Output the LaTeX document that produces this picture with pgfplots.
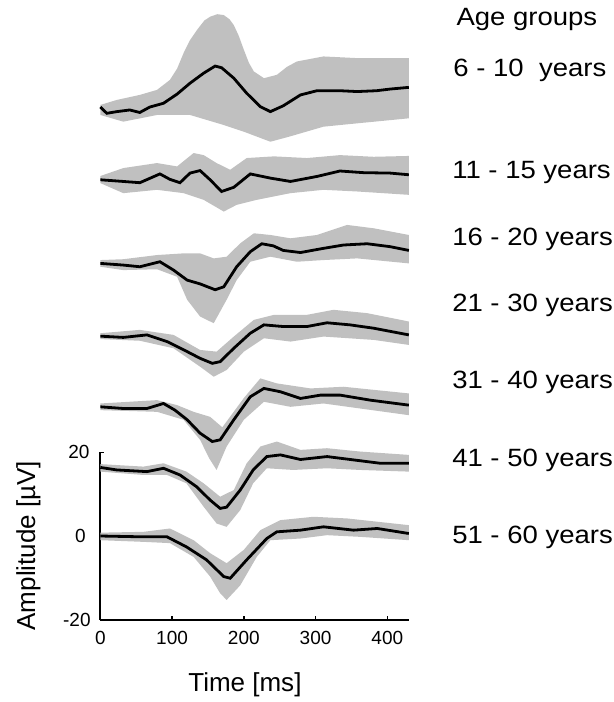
\documentclass[border=0pt]{standalone}
\usepackage{fontspec}
\setmainfont{Liberation Sans}
\usepackage{graphicx}
\usepackage{pgfplots}
\pgfplotsset{compat=1.18}
\usepgfplotslibrary{fillbetween}
\definecolor{band}{RGB}{192,192,192}
\newcommand{\lab}[1]{\scalebox{1.1}[1]{\fontsize{12.5}{15}\selectfont #1}}
\newcommand{\tl}[1]{\fontsize{9.5}{11}\selectfont #1}
\begin{document}
\begin{tikzpicture}
\begin{axis}[
  scale only axis, width=154.2pt, height=83.6pt,
  xmin=0, xmax=430, ymin=-20, ymax=20,
  clip=false,
  axis lines=left,
  axis line style={-, line width=1pt},
  every outer x axis line/.append style={-},
  every outer y axis line/.append style={-},
  xtick={0,100,200,300,400}, ytick={-20,0,20},
  xticklabels={0,100,200,300,400}, yticklabels={},
  tick align=inside, major tick length=2pt,
  tick style={line width=0.8pt, black},
  tick label style={font=\fontsize{9.5}{11}\selectfont},
  xticklabel style={yshift=-2.5pt},
]
\coordinate (bbl) at (axis cs:-139.9,-39.7);
\coordinate (btr) at (axis cs:715,128.2);

% ---- bands (upper / lower edges) ----
\addplot[draw=none, name path=u1] coordinates {(0,103.1)(23,104.3)(55,105.5)(79,106.7)(97,109.1)(107,111.8)(116,115.5)(125,118.6)(135,121.1)(145,123.3)(153,124.2)(163,124.8)(172,124.6)(180,123.6)(186,122.2)(193,119.6)(200,116.3)(207,113.2)(214,111.1)(228,109.5)(246,110.3)(260,112.2)(274,113.5)(311,114.7)(358,114.3)(404,114.3)(430,114.3)};
\addplot[draw=none, name path=l1] coordinates {(0,100.7)(32,99.1)(79,100.7)(125,100.7)(172,98.3)(200,96.7)(237,94.3)(265,95.6)(311,97.9)(358,98.7)(430,99.9)};
\addplot[band] fill between[of=u1 and l1];

\addplot[draw=none, name path=u2] coordinates {(0,86.1)(32,88.0)(79,89.2)(107,88.4)(130,91.6)(144,91.1)(162,89.2)(181,87.6)(204,90.4)(242,90.8)(288,90.4)(334,91.1)(381,90.7)(430,90.9)};
\addplot[draw=none, name path=l2] coordinates {(0,84.4)(32,82.0)(79,82.8)(116,82.0)(144,80.4)(172,77.6)(190,79.2)(218,80.4)(265,82.0)(311,82.8)(358,82.4)(430,81.6)};
\addplot[band] fill between[of=u2 and l2];

\addplot[draw=none, name path=u3] coordinates {(0,66.0)(32,66.2)(79,67.2)(116,67.6)(139,67.6)(158,66.4)(176,66.8)(195,70.0)(214,72.4)(237,72.0)(265,71.2)(302,72.0)(344,74.4)(381,73.6)(430,72.0)};
\addplot[draw=none, name path=l3] coordinates {(0,64.4)(32,63.6)(79,63.8)(107,62.0)(121,56.5)(139,52.5)(158,50.9)(176,56.5)(190,61.2)(209,65.6)(237,66.8)(274,65.6)(311,66.0)(358,66.4)(430,65.2)};
\addplot[band] fill between[of=u3 and l3];

\addplot[draw=none, name path=u4] coordinates {(0,48.5)(55,49.3)(102,48.1)(139,44.5)(162,44.1)(186,47.7)(214,51.7)(242,52.9)(288,52.9)(325,54.1)(372,53.3)(430,51.3)};
\addplot[draw=none, name path=l4] coordinates {(0,47.1)(55,46.7)(102,44.9)(139,40.5)(158,38.1)(176,39.7)(200,44.1)(228,47.3)(265,46.5)(311,47.7)(381,46.9)(430,45.7)};
\addplot[band] fill between[of=u4 and l4];

\addplot[draw=none, name path=u5] coordinates {(0,31.7)(79,32.5)(107,31.3)(130,29.7)(153,28.5)(170,26.0)(185,29.5)(200,33.0)(223,37.7)(246,36.5)(293,35.3)(339,35.7)(430,34.1)};
\addplot[draw=none, name path=l5] coordinates {(0,30.1)(79,29.7)(116,27.8)(139,23.0)(152,18.5)(162,15.8)(176,21.4)(200,27.8)(228,32.1)(265,30.9)(311,31.7)(430,28.9)};
\addplot[band] fill between[of=u5 and l5];

\addplot[draw=none, name path=u6] coordinates {(0,17.2)(60,16.6)(88,17.4)(120,15.4)(144,12.6)(167,9.4)(186,11.0)(204,17.4)(223,21.4)(246,22.6)(279,20.6)(316,21.0)(362,20.2)(430,19.4)};
\addplot[draw=none, name path=l6] coordinates {(0,15.4)(60,14.6)(93,14.6)(120,12.6)(144,7.0)(162,3.0)(176,2.2)(195,6.2)(213,12.6)(232,16.2)(269,15.8)(316,16.2)(362,15.8)(430,15.4)};
\addplot[band] fill between[of=u6 and l6];

\addplot[draw=none, name path=u7] coordinates {(0,0.8)(60,1.0)(97,1.8)(130,-1.0)(153,-4.1)(176,-6.5)(200,-3.3)(223,1.4)(251,3.8)(297,4.6)(344,4.2)(430,2.6)};
\addplot[draw=none, name path=l7] coordinates {(0,-1.0)(60,-1.4)(97,-1.7)(130,-5.0)(153,-9.7)(167,-13.7)(176,-15.3)(195,-11.8)(218,-5.0)(237,-1.0)(279,-0.6)(316,0.2)(362,-0.2)(430,-1.0)};
\addplot[band] fill between[of=u7 and l7];

% ---- means ----
\addplot[black, line width=1.4pt] coordinates {(0,102.6)(9,101.1)(23,101.5)(41,101.9)(55,101.3)(69,102.6)(88,103.5)(107,105.7)(125,108.3)(144,110.7)(160,112.4)(169,112.0)(186,109.5)(204,105.9)(223,102.7)(237,101.5)(255,102.9)(279,105.5)(302,106.5)(334,106.5)(358,106.3)(385,106.5)(404,106.9)(430,107.3)};
\addplot[black, line width=1.4pt] coordinates {(0,85.2)(32,84.8)(55,84.5)(83,86.6)(97,85.3)(111,84.5)(125,86.8)(139,87.4)(153,85.2)(169,82.4)(186,83.4)(209,86.6)(237,85.6)(265,84.8)(302,86.0)(334,87.3)(367,86.9)(404,86.8)(430,86.4)};
\addplot[black, line width=1.4pt] coordinates {(0,65.2)(32,64.8)(55,64.4)(83,65.6)(102,63.6)(121,61.2)(139,60.3)(160,58.9)(172,59.6)(190,64.4)(209,68.0)(225,69.9)(241,69.4)(255,68.3)(279,67.8)(311,68.8)(339,69.6)(372,69.9)(404,69.2)(430,68.3)};
\addplot[black, line width=1.4pt] coordinates {(0,47.8)(32,47.5)(65,48.1)(93,46.5)(121,44.1)(139,42.5)(156,41.3)(167,41.7)(186,44.9)(209,48.5)(228,50.5)(255,50.1)(288,50.1)(316,51.0)(348,50.5)(381,49.7)(430,48.1)};
\addplot[black, line width=1.4pt] coordinates {(0,30.9)(32,30.5)(65,30.5)(88,31.7)(104,30.1)(121,27.8)(139,24.6)(156,22.6)(167,23.0)(186,27.8)(209,33.3)(228,35.3)(251,34.5)(279,32.9)(307,33.7)(334,33.7)(376,32.5)(430,31.3)};
\addplot[black, line width=1.4pt] coordinates {(0,16.4)(23,15.8)(65,15.4)(88,16.2)(111,14.6)(134,11.8)(153,8.6)(167,6.6)(176,6.9)(195,11.0)(213,15.8)(232,19.0)(251,19.4)(279,18.3)(316,19.0)(353,18.2)(390,17.4)(430,17.4)};
\addplot[black, line width=1.4pt] coordinates {(0,0)(60,-0.2)(93,-0.2)(120,-2.6)(148,-5.7)(172,-9.7)(181,-10.1)(204,-5.7)(232,-0.6)(246,1.0)(279,1.4)(311,2.2)(353,1.4)(386,1.8)(430,0.6)};

% ---- y tick labels ----
\node[anchor=east, inner sep=0pt] at (axis cs:-14.5,20) {\tl{20}};
\node[anchor=east, inner sep=0pt] at (axis cs:-20,0) {\tl{0}};
\node[anchor=east, inner sep=0pt] at (axis cs:-13,-20) {\tl{-20}};

% ---- texts ----
\node[anchor=base west, inner sep=0pt] at (axis cs:496,122.0) {\lab{Age groups}};
\node[anchor=base west, inner sep=0pt] at (axis cs:491.6,110.0) {\lab{6 - 10\ \ years}};
\node[anchor=base west, inner sep=0pt] at (axis cs:490,85.5) {\lab{11 - 15 years}};
\node[anchor=base west, inner sep=0pt] at (axis cs:490,69.5) {\lab{16 - 20 years}};
\node[anchor=base west, inner sep=0pt] at (axis cs:490,53.7) {\lab{21 - 30 years}};
\node[anchor=base west, inner sep=0pt] at (axis cs:490,35.3) {\lab{31 - 40 years}};
\node[anchor=base west, inner sep=0pt] at (axis cs:490,16.6) {\lab{41 - 50 years}};
\node[anchor=base west, inner sep=0pt] at (axis cs:490,-1.8) {\lab{51 - 60 years}};
\node[anchor=base, inner sep=0pt] at (axis cs:201.5,-37.2) {\fontsize{13}{15}\selectfont Time [ms]};
\node[anchor=base, inner sep=0pt, rotate=90] at (axis cs:-91.1,-2.3) {\fontsize{13}{15}\selectfont Amplitude [µV]};
\end{axis}
\pgfresetboundingbox
\useasboundingbox (bbl) rectangle (btr);
\end{tikzpicture}
\end{document}
